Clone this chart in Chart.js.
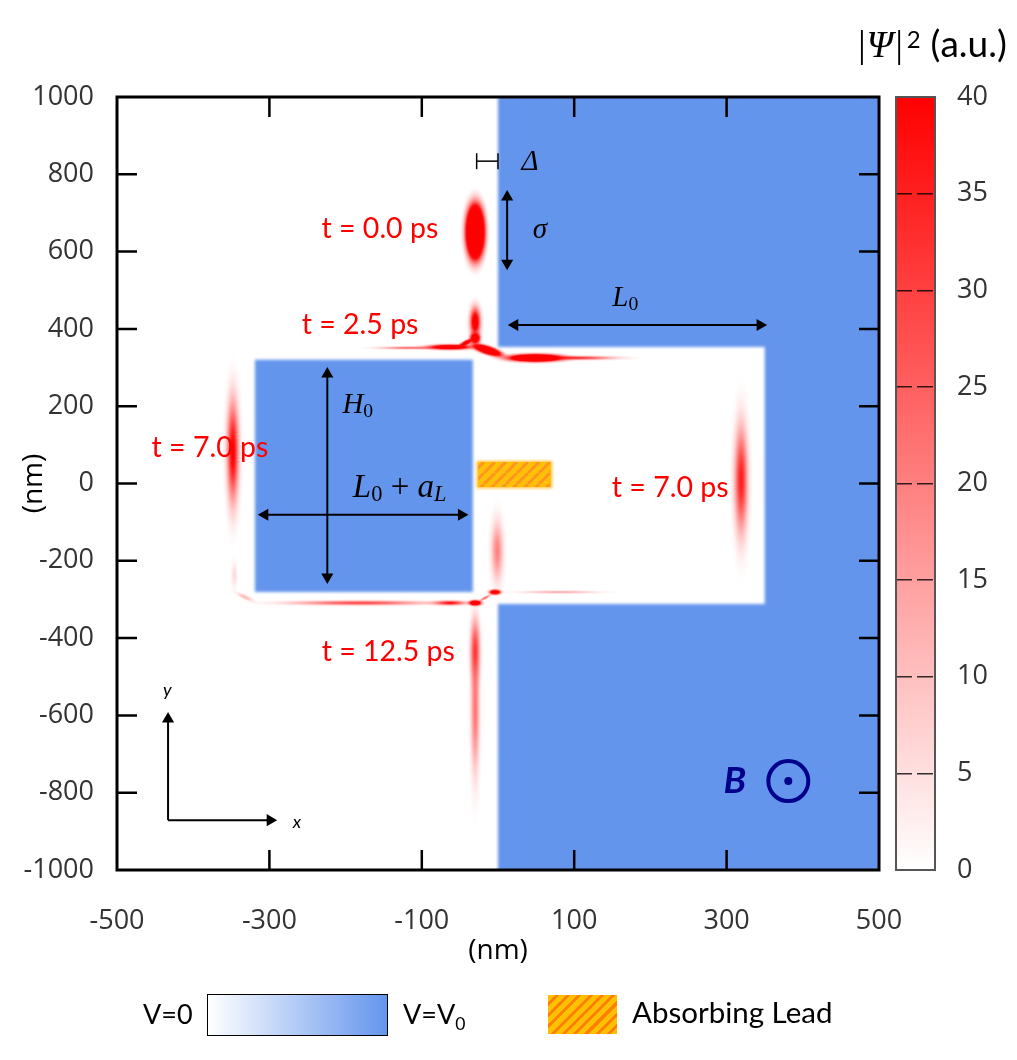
<!DOCTYPE html>
<html>
<head>
<meta charset="utf-8">
<script src="https://cdn.jsdelivr.net/npm/chart.js@4"></script>
<style>
  html, body { margin: 0; padding: 0; background: #fff; }
  #wrap { position: relative; width: 1017px; height: 1060px; overflow: hidden; }
  canvas { position: absolute; }
  .txt { position: absolute; white-space: nowrap; font-family: Lato, sans-serif; font-size: 27px; color: #000; }
  .math { font-family: "Liberation Serif", serif; font-style: italic; }
  sub { font-size: 65%; line-height: 0; }
</style>
</head>
<body>
<div id="wrap">
  <canvas id="mainChart" width="1017" height="1060" style="left:0;top:0"></canvas>
  <canvas id="barChart" width="137" height="810" style="left:880px;top:80px"></canvas>

  <div class="txt" style="left:856px;top:20px;font-size:37px"><span class="math" style="font-size:38px">|&Psi;|</span><span style="font-size:24px;vertical-align:9px;margin:0 10px 0 3px">2</span>(a.u.)</div>

  <!-- legend under the chart -->
  <div class="txt" style="left:143px;top:997px">V=0</div>
  <div style="position:absolute;left:207px;top:994px;width:179px;height:40px;border:1px solid #000;background:linear-gradient(to right,#fff,#6495ed)"></div>
  <div class="txt" style="left:403px;top:997px">V=V<sub>0</sub></div>
  <div style="position:absolute;left:548px;top:995px;width:69px;height:39px;background:repeating-linear-gradient(135deg,#ffc000 0 5px,#ff8000 5px 8px)"></div>
  <div class="txt" style="left:632px;top:994px;font-size:29.5px">Absorbing Lead</div>
</div>

<script>
// axis ticks
var xTickStep = 200
var yTickStep = 200
var barTickStep = 5

// potential regions, nm
var outerX = [0, 540, 540, 0, 0, 350, 350, 0]
var outerY = [1040, 1040, -1040, -1040, -312, -312, 353, 353]
var innerX = [-319, -33, -33, -319]
var innerY = [320, 320, -281, -281]
var leadX = [-28, 71, 71, -28]
var leadY = [58, 58, -12, -12]

// |psi|^2 lumps: centre, half size (nm), peak value, tilt (deg)
var blobX = [-30, -30, -30, -63, -115, -14, -42, 49, 101, -348, 319, -181, -63, -332, -346, -30, -4, -17, -30, -30, -1, 81]
var blobY = [651, 418, 376, 353, 351, 345, 364, 325, 325, 82, 9, -309, -309, -294, -237, -309, -281, -296, -431, -586, -175, -281]
var blobW = [20, 13, 11, 52, 79, 33, 18, 62, 98, 15, 17, 171, 39, 22, 7, 14, 13, 15, 12, 11, 15, 92]
var blobH = [116, 72, 24, 12, 7, 17, 10, 17, 9, 259, 272, 11, 11, 10, 65, 12, 11, 6, 155, 323, 150, 7]
var blobPeak = [200, 55, 100, 80, 24, 140, 80, 130, 36, 42, 36, 30, 40, 12, 6, 100, 90, 28, 30, 22, 20, 14]
var blobTilt = [0, 0, 0, 0, 0, 18, -28, 0, 0, 0, 0, 0, 0, 25, 0, 0, 0, -28, 0, 0, 0, 0]

// dimension arrows: [x0, y0, x1, y1], heads: 2 = both ends, 1 = end only
var arrowLines = [
  [12, 741, 12, 570],
  [22, 410, 344, 410],
  [-224, 283, -224, -242],
  [-306, -81, -48, -81],
  [-433, -871, -433, -609],
  [-433, -871, -299, -871]
]
var arrowHeads = [2, 2, 2, 2, 1, 1]
var deltaX = [-28, 0]
var deltaY = [834, 834]
var fieldX = [381]
var fieldY = [-770]

// labels on the plot
var timeText = ['t = 0.0 ps', 't = 2.5 ps', 't = 7.0 ps', 't = 7.0 ps', 't = 12.5 ps']
var timeX = [-155, -181, -378, 226, -144]
var timeY = [658, 410, 92, -12, -436]
var mathText = ['\u0394', '\u03c3', 'L_0', 'H_0', 'L_0 + a_L']
var mathX = [42, 55, 167, -184, -129]
var mathY = [832, 656, 480, 203, -12]
var mathSize = [29, 29, 29, 29, 33]
var axisText = ['y', 'x']
var axisX = [-434, -264]
var axisY = [-534, -876]

function points(xs, ys) {
  return xs.map(function (x, i) { return { x: x, y: ys[i] } })
}

// soft red lump as a sprite, sized through the chart scales
function blobSprite(chart, i) {
  var sx = chart.scales.x
  var sy = chart.scales.y
  var rx = Math.abs(sx.getPixelForValue(blobW[i]) - sx.getPixelForValue(0))
  var ry = Math.abs(sy.getPixelForValue(blobH[i]) - sy.getPixelForValue(0))
  var c = document.createElement('canvas')
  c.width = Math.ceil(rx * 2)
  c.height = Math.ceil(ry * 2)
  var g = c.getContext('2d')
  g.translate(c.width / 2, c.height / 2)
  g.scale(rx, ry)
  var grad = g.createRadialGradient(0, 0, 0, 0, 0, 1)
  for (var k = 0; k <= 20; k++) {
    var r = k / 20
    var a = (Math.exp(-4.5 * r * r) - Math.exp(-4.5)) * blobPeak[i] / 40
    grad.addColorStop(r, 'rgba(255,0,0,' + Math.min(1, a).toFixed(3) + ')')
  }
  g.fillStyle = grad
  g.beginPath()
  g.arc(0, 0, 1, 0, Math.PI * 2)
  g.fill()
  return c
}

function hatchPattern() {
  var c = document.createElement('canvas')
  c.width = 11
  c.height = 11
  var g = c.getContext('2d')
  g.fillStyle = '#ffc107'
  g.fillRect(0, 0, 11, 11)
  g.strokeStyle = '#ff9420'
  g.lineWidth = 3
  for (var k = -11; k <= 22; k += 11) {
    g.beginPath()
    g.moveTo(k, 11)
    g.lineTo(k + 11, 0)
    g.stroke()
  }
  return document.createElement('canvas').getContext('2d').createPattern(c, 'repeat')
}

var arrowSets = arrowLines.map(function (a, i) {
  return {
    showLine: true,
    data: [{ x: a[0], y: a[1] }, { x: a[2], y: a[3] }],
    borderColor: '#000',
    borderWidth: 2,
    backgroundColor: '#000',
    pointBackgroundColor: '#000',
    pointBorderWidth: 0,
    pointStyle: 'triangle',
    pointRadius: function (ctx) { return (arrowHeads[i] === 1 && ctx.dataIndex === 0) ? 0 : 7 },
    pointRotation: function (ctx) {
      var horizontal = a[1] === a[3]
      if (horizontal) return ctx.dataIndex === 0 ? 270 : 90
      return ctx.dataIndex === 0 ? (a[1] > a[3] ? 0 : 180) : (a[1] > a[3] ? 180 : 0)
    }
  }
})

var softEdges = {
  id: 'softEdges',
  // filler runs in beforeDatasetsDraw, so the filter has to be on before that
  beforeDraw: function (chart) { chart.ctx.save(); chart.ctx.filter = 'blur(1.8px)' },
  beforeDatasetsDraw: function (chart) { chart.ctx.restore() }
}

function mathRun(ctx, text, x, y, size) {
  ctx.textAlign = 'left'
  ctx.textBaseline = 'middle'
  var runs = []
  for (var i = 0; i < text.length; i++) {
    if (text[i] === '_') { runs.push({ c: text[++i], sub: true }) }
    else runs.push({ c: text[i], sub: false })
  }
  function fontFor(r) {
    var plain = /[0-9+ ]/.test(r.c)
    return (plain ? '' : 'italic ') + (r.sub ? size * 0.68 : size) + 'px "Liberation Serif", serif'
  }
  var total = 0
  runs.forEach(function (r) { ctx.font = fontFor(r); total += ctx.measureText(r.c).width })
  var cx = x - total / 2
  runs.forEach(function (r) {
    ctx.font = fontFor(r)
    ctx.fillText(r.c, cx, r.sub ? y + size * 0.22 : y)
    cx += ctx.measureText(r.c).width
  })
}

var plotDecor = {
  id: 'plotDecor',
  afterDatasetsDraw: function (chart) {
    var ctx = chart.ctx
    var a = chart.chartArea
    var sx = chart.scales.x
    var sy = chart.scales.y
    ctx.save()

    // labels
    ctx.fillStyle = '#ff0000'
    ctx.font = '28.5px Lato, sans-serif'
    ctx.textAlign = 'center'
    ctx.textBaseline = 'middle'
    timeText.forEach(function (t, i) {
      ctx.fillText(t, sx.getPixelForValue(timeX[i]), sy.getPixelForValue(timeY[i]))
    })
    ctx.fillStyle = '#000'
    mathText.forEach(function (t, i) {
      mathRun(ctx, t, sx.getPixelForValue(mathX[i]), sy.getPixelForValue(mathY[i]), mathSize[i])
    })
    ctx.font = 'italic 18px Lato, sans-serif'
    ctx.textAlign = 'center'
    axisText.forEach(function (t, i) {
      ctx.fillText(t, sx.getPixelForValue(axisX[i]), sy.getPixelForValue(axisY[i]))
    })
    ctx.fillStyle = '#00008b'
    ctx.font = 'italic bold 37px Lato, sans-serif'
    ctx.fillText('B', sx.getPixelForValue(311), sy.getPixelForValue(-770))

    // inward ticks on all four sides
    ctx.strokeStyle = '#000'
    ctx.lineWidth = 2.5
    ctx.beginPath()
    sx.ticks.forEach(function (t) {
      if (t.value === sx.min || t.value === sx.max) return
      var p = sx.getPixelForValue(t.value)
      ctx.moveTo(p, a.bottom); ctx.lineTo(p, a.bottom - 20)
      ctx.moveTo(p, a.top); ctx.lineTo(p, a.top + 20)
    })
    sy.ticks.forEach(function (t) {
      if (t.value === sy.min || t.value === sy.max) return
      var p = sy.getPixelForValue(t.value)
      ctx.moveTo(a.left, p); ctx.lineTo(a.left + 20, p)
      ctx.moveTo(a.right, p); ctx.lineTo(a.right - 20, p)
    })
    ctx.stroke()
    ctx.lineWidth = 3
    ctx.strokeRect(a.left, a.top, a.right - a.left, a.bottom - a.top)
    ctx.restore()
  }
}

var blueFill = '#6495ed'
var tickFont = { family: 'Open Sans', size: 27 }
var titleFont = { family: 'Open Sans', size: 28 }
var plainNumber = function (v) { return String(v) }

new Chart(document.getElementById('mainChart'), {
  type: 'scatter',
  data: {
    datasets: [
      {
        data: points(blobX, blobY),
        pointStyle: function (ctx) { return blobSprite(ctx.chart, ctx.dataIndex) },
        pointRotation: function (ctx) { return blobTilt[ctx.dataIndex] },
        pointRadius: 1
      }
    ].concat(arrowSets, [
      {
        // delta marker with end bars
        showLine: true,
        data: points(deltaX, deltaY),
        borderColor: '#000',
        borderWidth: 1.5,
        pointStyle: 'line',
        pointRotation: 90,
        pointRadius: 8,
        pointBorderColor: '#000',
        pointBorderWidth: 1.5
      },
      {
        data: points(fieldX, fieldY),
        pointRadius: 20,
        pointBorderWidth: 4,
        pointBorderColor: '#00008b',
        pointBackgroundColor: 'rgba(0,0,0,0)'
      },
      {
        data: points(fieldX, fieldY),
        pointRadius: 4,
        pointBorderWidth: 0,
        pointBackgroundColor: '#00008b'
      },
      {
        // hatched lead body, inside the soft edge drawn below
        showLine: true,
        data: [{ x: leadX[0] + 2, y: 23 }, { x: leadX[1] - 2, y: 23 }],
        borderColor: hatchPattern(),
        borderWidth: 25,
        borderCapStyle: 'butt',
        pointRadius: 0
      },
      {
        showLine: true,
        data: points(leadX, leadY),
        fill: 'shape',
        backgroundColor: '#ffc030',
        borderWidth: 0,
        pointRadius: 0
      },
      {
        showLine: true,
        data: points(outerX, outerY),
        fill: 'shape',
        backgroundColor: blueFill,
        borderWidth: 0,
        pointRadius: 0
      },
      {
        showLine: true,
        data: points(innerX, innerY),
        fill: 'shape',
        backgroundColor: blueFill,
        borderWidth: 0,
        pointRadius: 0
      }
    ])
  },
  options: {
    responsive: false,
    animation: false,
    events: [],
    layout: { padding: { left: 17, top: 97, right: 138, bottom: 92 } },
    plugins: {
      legend: { display: false },
      tooltip: { enabled: false },
      filler: { drawTime: 'beforeDatasetsDraw' }
    },
    scales: {
      x: {
        min: -500,
        max: 500,
        grid: { display: false, z: 1 },
        border: { display: false },
        afterFit: function (scale) { scale.height = 98 },
        ticks: {
          stepSize: xTickStep,
          callback: plainNumber,
          z: 1,
          padding: 27,
          maxRotation: 0,
          autoSkip: false,
          color: '#333',
          font: tickFont
        },
        title: { display: true, text: '(nm)', color: '#000', padding: 0, font: titleFont }
      },
      y: {
        min: -1000,
        max: 1000,
        grid: { display: false, z: 1 },
        border: { display: false },
        afterFit: function (scale) { scale.width = 100 },
        ticks: {
          stepSize: yTickStep,
          callback: plainNumber,
          z: 1,
          padding: 15,
          autoSkip: false,
          color: '#333',
          font: tickFont
        },
        title: { display: true, text: '(nm)', color: '#000', padding: 0, font: titleFont }
      }
    }
  },
  plugins: [softEdges, plotDecor]
})

// colour bar
var barLabels = ['']
var barRange = [[0, 40]]

var barFrame = {
  id: 'barFrame',
  afterDraw: function (chart) {
    var a = chart.chartArea
    chart.ctx.save()
    chart.ctx.strokeStyle = '#555'
    chart.ctx.lineWidth = 2
    chart.ctx.strokeRect(a.left, a.top, a.right - a.left, a.bottom - a.top)
    chart.ctx.restore()
  }
}

new Chart(document.getElementById('barChart'), {
  type: 'bar',
  data: {
    labels: barLabels,
    datasets: [{
      data: barRange,
      barPercentage: 1,
      categoryPercentage: 1,
      backgroundColor: function (ctx) {
        var a = ctx.chart.chartArea
        if (!a) return '#ff0000'
        var g = ctx.chart.ctx.createLinearGradient(0, a.bottom, 0, a.top)
        g.addColorStop(0, '#ffffff')
        g.addColorStop(1, '#ff0000')
        return g
      }
    }]
  },
  options: {
    responsive: false,
    animation: false,
    events: [],
    layout: { padding: { left: 16, top: 17, right: 0, bottom: 20 } },
    plugins: { legend: { display: false }, tooltip: { enabled: false } },
    scales: {
      x: { display: false },
      y: {
        position: 'right',
        min: 0,
        max: 40,
        afterFit: function (scale) {
          scale.width = 82
          scale.paddingTop = 0
          scale.paddingBottom = 0
        },
        grid: { color: 'rgba(0,0,0,0.8)', z: 1, drawTicks: false, lineWidth: 1.5 },
        border: { display: false, dash: [16, 5] },
        ticks: {
          stepSize: barTickStep,
          padding: 22,
          color: '#333',
          font: tickFont
        }
      }
    }
  },
  plugins: [barFrame]
})
</script>
</body>
</html>
